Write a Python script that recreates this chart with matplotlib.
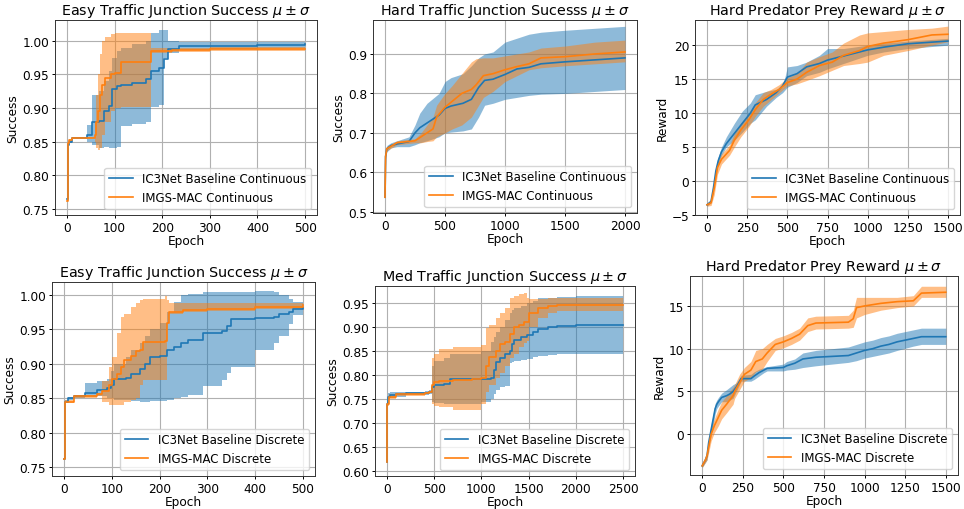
import matplotlib
matplotlib.use("Agg")
import matplotlib.pyplot as plt
from matplotlib.ticker import MultipleLocator

# ---------------- data ----------------
# Panel 1: Easy Traffic Junction, continuous
p1_ic3_x = [0, 2, 5, 10, 42, 53, 67, 77, 88, 95, 106, 113, 137, 165, 176, 194, 204, 212, 236, 300, 400, 500]
p1_ic3_mean = [0.765, 0.845, 0.850, 0.856, 0.860, 0.879, 0.881, 0.896, 0.903, 0.928, 0.933, 0.935, 0.938, 0.943, 0.955, 0.960, 0.973, 0.988, 0.992, 0.993, 0.994, 0.995]
p1_ic3_hi = [0.765, 0.847, 0.852, 0.857, 0.875, 0.920, 0.925, 0.940, 0.955, 0.975, 0.985, 0.990, 0.995, 1.000, 1.012, 1.016, 1.016, 1.000, 0.998, 0.998, 0.998, 0.998]
p1_ic3_lo = [0.765, 0.843, 0.848, 0.855, 0.850, 0.845, 0.840, 0.842, 0.840, 0.840, 0.842, 0.874, 0.876, 0.879, 0.901, 0.905, 0.975, 0.982, 0.986, 0.988, 0.990, 0.992]
p1_img_x = [0, 2, 5, 10, 58, 62, 66, 70, 74, 80, 92, 100, 113, 176, 220, 300, 500]
p1_img_mean = [0.762, 0.848, 0.852, 0.856, 0.860, 0.880, 0.895, 0.920, 0.935, 0.945, 0.951, 0.952, 0.968, 0.985, 0.986, 0.988, 0.988]
p1_img_hi = [0.762, 0.850, 0.854, 0.857, 0.880, 0.920, 0.950, 0.980, 1.000, 1.005, 1.010, 1.012, 1.012, 0.990, 0.990, 0.991, 0.991]
p1_img_lo = [0.762, 0.846, 0.850, 0.855, 0.850, 0.840, 0.838, 0.840, 0.860, 0.880, 0.895, 0.900, 0.902, 0.982, 0.983, 0.985, 0.985]

# Panel 2: Hard Traffic Junction, continuous
p2_ic3_x = [0, 5, 15, 50, 100, 200, 250, 290, 350, 450, 500, 550, 650, 720, 780, 830, 900, 1000, 1100, 1200, 1300, 1500, 1750, 2000]
p2_ic3_mean = [0.537, 0.640, 0.660, 0.668, 0.672, 0.678, 0.700, 0.713, 0.725, 0.745, 0.762, 0.768, 0.775, 0.785, 0.815, 0.833, 0.836, 0.848, 0.862, 0.866, 0.875, 0.880, 0.885, 0.890]
p2_ic3_hi = [0.537, 0.645, 0.668, 0.675, 0.680, 0.690, 0.720, 0.750, 0.775, 0.800, 0.830, 0.840, 0.850, 0.870, 0.890, 0.900, 0.905, 0.930, 0.940, 0.950, 0.955, 0.960, 0.965, 0.970]
p2_ic3_lo = [0.537, 0.635, 0.652, 0.662, 0.665, 0.665, 0.670, 0.675, 0.680, 0.690, 0.700, 0.702, 0.705, 0.710, 0.740, 0.770, 0.775, 0.785, 0.790, 0.795, 0.798, 0.800, 0.805, 0.810]
p2_img_x = [0, 5, 15, 100, 250, 300, 350, 400, 430, 500, 560, 640, 720, 760, 820, 900, 1000, 1100, 1200, 1300, 1500, 1750, 2000]
p2_img_mean = [0.537, 0.640, 0.660, 0.675, 0.680, 0.690, 0.700, 0.710, 0.740, 0.765, 0.780, 0.800, 0.810, 0.822, 0.845, 0.850, 0.860, 0.868, 0.875, 0.890, 0.893, 0.900, 0.905]
p2_img_hi = [0.537, 0.645, 0.665, 0.680, 0.685, 0.700, 0.720, 0.740, 0.770, 0.800, 0.820, 0.850, 0.880, 0.888, 0.890, 0.890, 0.895, 0.900, 0.905, 0.915, 0.920, 0.930, 0.935]
p2_img_lo = [0.537, 0.635, 0.655, 0.670, 0.675, 0.675, 0.678, 0.680, 0.690, 0.700, 0.710, 0.720, 0.740, 0.760, 0.790, 0.805, 0.830, 0.845, 0.860, 0.865, 0.870, 0.875, 0.880]

# Panel 3: Hard Predator Prey, continuous
p3_ic3_x = [0, 25, 40, 55, 70, 90, 120, 170, 220, 270, 300, 370, 430, 470, 500, 560, 620, 700, 750, 850, 1000, 1100, 1250, 1500]
p3_ic3_mean = [-3.5, -3.0, -1.0, 1.5, 3.0, 4.3, 5.5, 7.0, 8.5, 10.0, 11.2, 12.0, 13.0, 14.0, 15.3, 15.8, 16.8, 17.3, 17.8, 18.4, 19.3, 19.7, 20.2, 20.6]
p3_ic3_hi = [-3.3, -2.7, -0.5, 2.0, 3.6, 5.0, 6.5, 8.5, 10.3, 11.5, 12.7, 13.2, 13.5, 13.8, 16.8, 17.0, 17.5, 18.5, 19.5, 19.5, 20.0, 20.3, 20.6, 21.0]
p3_ic3_lo = [-3.7, -3.2, -1.5, 1.0, 2.5, 3.8, 5.0, 6.0, 7.2, 8.5, 9.0, 11.0, 12.3, 13.0, 13.8, 14.5, 15.5, 16.0, 16.5, 17.3, 18.5, 19.0, 19.5, 20.0]
p3_img_x = [0, 25, 45, 65, 90, 140, 170, 210, 260, 300, 350, 400, 450, 500, 560, 620, 700, 780, 850, 950, 1000, 1100, 1250, 1400, 1500]
p3_img_mean = [-3.5, -3.2, -1.0, 2.0, 3.2, 4.5, 6.0, 7.5, 9.0, 10.5, 12.0, 12.8, 13.5, 14.5, 15.0, 16.0, 17.0, 17.5, 18.5, 19.2, 19.8, 20.3, 20.8, 21.5, 21.6]
p3_img_hi = [-3.3, -2.8, 0.0, 3.0, 4.0, 5.3, 7.0, 8.5, 10.0, 11.5, 13.0, 13.5, 14.2, 15.2, 15.8, 17.5, 18.3, 19.0, 20.3, 21.5, 21.8, 22.0, 22.3, 22.5, 22.8]
p3_img_lo = [-3.7, -3.6, -2.0, 1.0, 2.5, 3.8, 5.0, 6.5, 8.0, 9.5, 11.0, 12.0, 13.0, 14.0, 14.3, 14.8, 15.5, 16.3, 17.0, 17.3, 17.5, 18.5, 19.2, 20.0, 20.5]

# Panel 4: Easy Traffic Junction, discrete
p4_ic3_x = [0, 2, 8, 20, 45, 70, 90, 98, 105, 130, 140, 160, 170, 180, 200, 215, 230, 245, 260, 290, 330, 340, 350, 400, 440, 450, 470, 480, 500]
p4_ic3_mean = [0.762, 0.845, 0.850, 0.853, 0.858, 0.862, 0.865, 0.870, 0.878, 0.880, 0.885, 0.893, 0.900, 0.910, 0.912, 0.920, 0.925, 0.930, 0.935, 0.945, 0.948, 0.955, 0.965, 0.967, 0.968, 0.972, 0.975, 0.980, 0.981]
p4_ic3_hi = [0.762, 0.847, 0.852, 0.855, 0.872, 0.875, 0.878, 0.890, 0.900, 0.910, 0.920, 0.930, 0.940, 0.950, 0.960, 0.975, 0.990, 1.000, 1.002, 1.004, 1.005, 1.005, 1.005, 1.006, 1.004, 1.000, 0.995, 0.990, 0.987]
p4_ic3_lo = [0.762, 0.843, 0.848, 0.851, 0.852, 0.853, 0.850, 0.850, 0.848, 0.848, 0.846, 0.845, 0.845, 0.846, 0.846, 0.848, 0.850, 0.852, 0.855, 0.868, 0.877, 0.886, 0.895, 0.920, 0.930, 0.940, 0.958, 0.971, 0.975]
p4_img_x = [0, 2, 20, 70, 80, 95, 100, 110, 120, 125, 140, 150, 160, 165, 212, 216, 220, 250, 300, 400, 500]
p4_img_mean = [0.762, 0.845, 0.853, 0.856, 0.860, 0.870, 0.878, 0.885, 0.895, 0.905, 0.912, 0.918, 0.920, 0.932, 0.933, 0.960, 0.975, 0.978, 0.980, 0.983, 0.985]
p4_img_hi = [0.762, 0.847, 0.855, 0.857, 0.875, 0.895, 0.910, 0.945, 0.968, 0.972, 0.982, 0.988, 0.993, 0.995, 0.999, 0.993, 0.988, 0.988, 0.988, 0.988, 0.988]
p4_img_lo = [0.762, 0.843, 0.851, 0.854, 0.845, 0.840, 0.840, 0.840, 0.840, 0.845, 0.848, 0.850, 0.870, 0.877, 0.877, 0.960, 0.972, 0.975, 0.977, 0.980, 0.981]

# Panel 5: Med Traffic Junction, discrete
p5_ic3_x = [0, 5, 15, 30, 100, 200, 400, 450, 480, 500, 600, 670, 1000, 1100, 1130, 1150, 1200, 1250, 1300, 1320, 1350, 1420, 1480, 1550, 1600, 1700, 1800, 2000, 2500]
p5_ic3_mean = [0.620, 0.740, 0.755, 0.758, 0.760, 0.762, 0.763, 0.765, 0.775, 0.780, 0.782, 0.792, 0.793, 0.795, 0.810, 0.828, 0.835, 0.845, 0.850, 0.865, 0.873, 0.880, 0.883, 0.890, 0.897, 0.900, 0.903, 0.905, 0.905]
p5_ic3_hi = [0.620, 0.745, 0.762, 0.765, 0.765, 0.766, 0.767, 0.770, 0.820, 0.830, 0.835, 0.845, 0.850, 0.870, 0.880, 0.890, 0.900, 0.915, 0.930, 0.935, 0.940, 0.945, 0.950, 0.955, 0.960, 0.962, 0.964, 0.965, 0.965]
p5_ic3_lo = [0.620, 0.735, 0.750, 0.752, 0.755, 0.758, 0.759, 0.760, 0.745, 0.742, 0.740, 0.740, 0.745, 0.750, 0.760, 0.770, 0.775, 0.778, 0.825, 0.828, 0.830, 0.832, 0.833, 0.838, 0.840, 0.843, 0.845, 0.845, 0.845]
p5_img_x = [0, 5, 20, 100, 400, 450, 480, 500, 550, 700, 900, 1000, 1050, 1080, 1150, 1200, 1250, 1300, 1350, 1400, 1450, 1480, 1500, 1600, 1700, 1800, 2500]
p5_img_mean = [0.620, 0.740, 0.755, 0.760, 0.763, 0.765, 0.780, 0.785, 0.788, 0.790, 0.792, 0.795, 0.820, 0.838, 0.850, 0.865, 0.870, 0.885, 0.900, 0.905, 0.910, 0.912, 0.930, 0.940, 0.945, 0.947, 0.947]
p5_img_hi = [0.620, 0.745, 0.760, 0.763, 0.765, 0.767, 0.835, 0.845, 0.855, 0.858, 0.858, 0.862, 0.898, 0.905, 0.920, 0.930, 0.940, 0.960, 0.965, 0.970, 0.972, 0.960, 0.958, 0.958, 0.960, 0.962, 0.962]
p5_img_lo = [0.620, 0.735, 0.750, 0.757, 0.760, 0.762, 0.740, 0.736, 0.733, 0.728, 0.728, 0.740, 0.765, 0.780, 0.795, 0.805, 0.820, 0.835, 0.845, 0.858, 0.868, 0.872, 0.900, 0.920, 0.930, 0.933, 0.933]

# Panel 6: Hard Predator Prey, discrete
p6_ic3_x = [0, 20, 30, 40, 50, 60, 70, 80, 90, 100, 120, 150, 170, 190, 210, 240, 300, 320, 350, 380, 400, 500, 520, 570, 620, 700, 800, 900, 950, 1000, 1050, 1100, 1150, 1200, 1300, 1350, 1500]
p6_ic3_mean = [-3.7, -3.0, -2.5, -1.0, 0.0, 1.0, 2.0, 3.0, 3.5, 3.8, 4.3, 4.5, 4.7, 5.0, 5.5, 6.5, 6.5, 6.8, 7.2, 7.5, 7.7, 7.8, 8.0, 8.3, 8.8, 9.0, 9.1, 9.2, 9.5, 9.8, 10.0, 10.3, 10.5, 10.8, 11.2, 11.4, 11.4]
p6_ic3_hi = [-3.5, -2.7, -2.0, -0.5, 0.6, 1.6, 2.6, 3.6, 4.0, 4.3, 4.8, 5.2, 5.5, 5.8, 6.0, 6.9, 7.0, 7.3, 7.6, 7.8, 7.9, 8.2, 8.5, 8.8, 9.5, 9.8, 10.0, 10.2, 10.5, 10.8, 11.0, 11.3, 11.5, 11.8, 12.2, 12.4, 12.4]
p6_ic3_lo = [-3.9, -3.3, -3.0, -1.5, -0.6, 0.4, 1.4, 2.4, 3.0, 3.3, 3.8, 3.8, 4.0, 4.2, 5.0, 6.2, 6.2, 6.4, 6.8, 7.2, 7.4, 7.4, 7.5, 7.6, 7.8, 8.0, 8.2, 8.4, 8.6, 8.9, 9.1, 9.3, 9.5, 9.8, 10.3, 10.5, 10.5]
p6_img_x = [0, 20, 30, 45, 55, 75, 100, 120, 150, 170, 190, 200, 230, 260, 300, 330, 370, 400, 450, 500, 550, 600, 650, 700, 900, 930, 950, 1000, 1100, 1200, 1300, 1350, 1500]
p6_img_mean = [-3.7, -3.0, -2.5, -1.0, 0.0, 1.0, 2.0, 2.8, 3.5, 4.0, 4.5, 5.0, 6.0, 7.0, 7.5, 8.5, 8.8, 9.5, 10.5, 10.8, 11.2, 11.7, 12.7, 13.0, 13.1, 13.5, 14.8, 15.0, 15.3, 15.5, 15.6, 16.5, 16.6]
p6_img_hi = [-3.5, -2.7, -2.0, -0.3, 0.8, 1.8, 3.0, 3.8, 4.5, 5.0, 5.5, 5.8, 7.0, 7.8, 8.5, 9.8, 10.0, 10.5, 11.2, 11.5, 11.9, 12.4, 13.6, 13.8, 13.9, 14.5, 16.0, 16.0, 16.0, 16.0, 16.2, 17.3, 17.3]
p6_img_lo = [-3.9, -3.3, -3.0, -1.7, -0.8, 0.2, 1.0, 1.8, 2.5, 3.0, 3.5, 4.2, 5.2, 6.2, 6.6, 7.3, 7.6, 8.5, 9.8, 10.1, 10.5, 11.0, 12.0, 12.3, 12.4, 12.5, 13.6, 14.0, 14.5, 14.8, 15.0, 16.0, 16.0]

titles = [
    r"Easy Traffic Junction Success $\mu \pm \sigma$",
    r"Hard Traffic Junction Sucesss $\mu \pm \sigma$",
    r"Hard Predator Prey Reward $\mu \pm \sigma$",
    r"Easy Traffic Junction Success $\mu \pm \sigma$",
    r"Med Traffic Junction Success $\mu \pm \sigma$",
    r"Hard Predator Prey Reward $\mu \pm \sigma$",
]
ylabels = ["Success", "Success", "Reward", "Success", "Success", "Reward"]
labels_cont = ["IC3Net Baseline Continuous", "IMGS-MAC Continuous"]
labels_disc = ["IC3Net Baseline Discrete", "IMGS-MAC Discrete"]

# ---------------- layout / style ----------------
W, H = 964, 510
rects_px = [  # left, top, right, bottom in pixels
    (55, 21, 317, 216),
    (373, 21, 637, 214),
    (695, 21, 960, 216),
    (52, 283, 315, 477),
    (375, 287, 635, 477),
    (690, 277, 958, 476),
]
xlims = [(-25, 525), (-100, 2100), (-75, 1575), (-25, 525), (-125, 2625), (-75, 1575)]
ylims = [(0.741, 1.031), (0.497, 0.986), (-5.0, 23.7), (0.737, 1.019), (0.59, 0.986), (-4.77, 18.5)]
xsteps = [100, 500, 250, 100, 500, 250]
ysteps = [0.05, 0.1, 5, 0.05, 0.05, 5]
stepped = [True, False, False, True, True, False]

C0, C1 = "#1f77b4", "#ff7f0e"

panels = [
    (p1_ic3_x, p1_ic3_mean, p1_ic3_lo, p1_ic3_hi, p1_img_x, p1_img_mean, p1_img_lo, p1_img_hi, labels_cont),
    (p2_ic3_x, p2_ic3_mean, p2_ic3_lo, p2_ic3_hi, p2_img_x, p2_img_mean, p2_img_lo, p2_img_hi, labels_cont),
    (p3_ic3_x, p3_ic3_mean, p3_ic3_lo, p3_ic3_hi, p3_img_x, p3_img_mean, p3_img_lo, p3_img_hi, labels_cont),
    (p4_ic3_x, p4_ic3_mean, p4_ic3_lo, p4_ic3_hi, p4_img_x, p4_img_mean, p4_img_lo, p4_img_hi, labels_disc),
    (p5_ic3_x, p5_ic3_mean, p5_ic3_lo, p5_ic3_hi, p5_img_x, p5_img_mean, p5_img_lo, p5_img_hi, labels_disc),
    (p6_ic3_x, p6_ic3_mean, p6_ic3_lo, p6_ic3_hi, p6_img_x, p6_img_mean, p6_img_lo, p6_img_hi, labels_disc),
]

fig = plt.figure(figsize=(W / 100, H / 100), dpi=100)

for i, (ax_, am, alo, ahi, bx, bm, blo, bhi, labs) in enumerate(panels):
    l, t, r, b = rects_px[i]
    ax = fig.add_axes([l / W, (H - b) / H, (r - l) / W, (b - t) / H])
    st = "post" if stepped[i] else None
    ds = "steps-post" if stepped[i] else "default"
    ax.fill_between(ax_, alo, ahi, step=st, color=C0, alpha=0.5, linewidth=0)
    ax.fill_between(bx, blo, bhi, step=st, color=C1, alpha=0.5, linewidth=0)
    ax.plot(ax_, am, drawstyle=ds, color=C0, linewidth=1.2, label=labs[0])
    ax.plot(bx, bm, drawstyle=ds, color=C1, linewidth=1.2, label=labs[1])
    ax.set_xlim(*xlims[i])
    ax.set_ylim(*ylims[i])
    ax.xaxis.set_major_locator(MultipleLocator(xsteps[i]))
    ax.yaxis.set_major_locator(MultipleLocator(ysteps[i]))
    ax.grid(True, color="#b0b0b0", linewidth=0.8)
    ax.set_axisbelow(True)
    ax.tick_params(labelsize=8.7, length=2.5, width=0.7, pad=1.8)
    for s in ax.spines.values():
        s.set_linewidth(0.7)
        s.set_color("#333333")
    ax.set_title(titles[i], fontsize=10.3, pad=4)
    ax.set_xlabel("Epoch", fontsize=8.7, labelpad=0)
    ax.set_ylabel(ylabels[i], fontsize=8.7, labelpad=2)
    ax.legend(loc="lower right", fontsize=8.5)

fig.savefig("out.png", dpi=100)
